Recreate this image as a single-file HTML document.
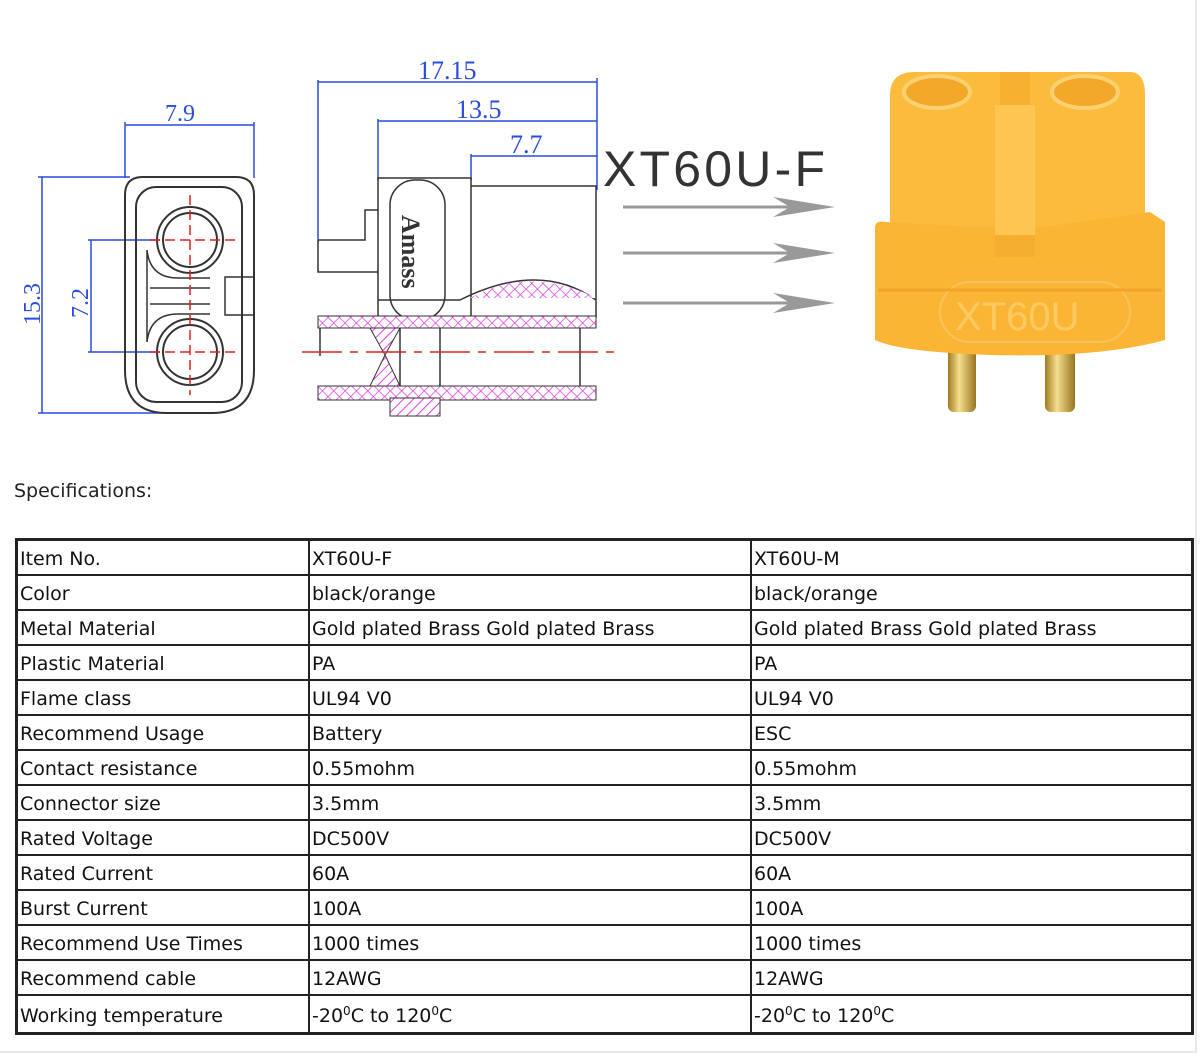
<!DOCTYPE html>
<html><head><meta charset="utf-8"><style>
html,body{margin:0;padding:0;background:#fff;}
body{width:1200px;height:1057px;position:relative;overflow:hidden;font-family:"DejaVu Sans","Liberation Sans",sans-serif;}
.frame{position:absolute;right:3px;top:0;width:2px;height:1053px;background:#e8e8e8;}
.frameb{position:absolute;left:0;top:1051px;width:1197px;height:2px;background:#e8e8e8;}
.spec{position:absolute;left:14px;top:480px;font-size:19px;color:#222;}
table{position:absolute;left:15px;top:538px;width:1179px;border-collapse:collapse;border:3px solid #222;font-size:19px;color:#111;}
td{border:2px solid #222;padding:0 0 0 2px;height:33px;line-height:30px;white-space:nowrap;vertical-align:bottom;}
td.a{width:288px}td.b{width:438px}
tr.last td{height:36px;line-height:32px}
sup{font-size:12px;vertical-align:7px;line-height:0}
</style></head><body>
<svg width="1200" height="470" style="position:absolute;left:0;top:0" font-family="Liberation Serif, serif">
<defs>
<pattern id="h" width="7" height="7" patternUnits="userSpaceOnUse" patternTransform="rotate(45)"><rect width="7" height="7" fill="#fff"/><line x1="0" y1="0" x2="0" y2="7" stroke="#e040e0" stroke-width="2"/></pattern>
<pattern id="x" width="8" height="8" patternUnits="userSpaceOnUse" patternTransform="rotate(45)"><rect width="8" height="8" fill="#fff"/><line x1="0" y1="0" x2="0" y2="8" stroke="#e040e0" stroke-width="1.5"/><line x1="0" y1="0" x2="8" y2="0" stroke="#e040e0" stroke-width="1.5"/></pattern>
<linearGradient id="pin" x1="0" x2="1"><stop offset="0" stop-color="#a07a20"/><stop offset=".4" stop-color="#f5df90"/><stop offset="1" stop-color="#9a7420"/></linearGradient>
</defs>
<g fill="none" stroke="#2a4be0" stroke-width="1.5">
<line x1="125" y1="125" x2="254" y2="125"/><line x1="125" y1="122" x2="125" y2="178"/><line x1="254" y1="122" x2="254" y2="178"/>
<line x1="38" y1="177" x2="130" y2="177"/><line x1="38" y1="413" x2="190" y2="413"/><line x1="42" y1="177" x2="42" y2="413"/>
<line x1="88" y1="240" x2="160" y2="240"/><line x1="88" y1="352" x2="160" y2="352"/><line x1="91" y1="240" x2="91" y2="352"/>
</g>
<text x="165" y="121" font-size="24" fill="#2a4be0">7.9</text>
<text transform="translate(40,325) rotate(-90)" font-size="24" fill="#2a4be0">15.3</text>
<text transform="translate(88,318) rotate(-90)" font-size="24" fill="#2a4be0">7.2</text>
<g fill="none" stroke="#333" stroke-width="2">
<path d="M125 195 Q125 177 143 177 L236 177 Q254 177 254 195 L254 370 Q254 413 212 413 L167 413 Q125 413 125 370 Z"/>
<rect x="136" y="187" width="106" height="215" rx="20"/>
<circle cx="190" cy="240" r="33"/><circle cx="190" cy="240" r="27"/>
<circle cx="190" cy="352" r="33"/><circle cx="190" cy="352" r="27"/>
<rect x="225" y="277" width="29" height="38" stroke-width="1.5"/>
<path d="M147 250 Q150 278 178 278 L210 278 M147 342 Q150 314 178 314 L210 314 M147 250 V342 M150 288 H210 M150 304 H210" stroke-width="1.5"/>
</g>
<g stroke="#e02020" stroke-width="1.5" stroke-dasharray="10,5">
<line x1="150" y1="240" x2="235" y2="240"/><line x1="150" y1="352" x2="235" y2="352"/><line x1="190" y1="195" x2="190" y2="395"/>
</g>
<g fill="none" stroke="#2a4be0" stroke-width="1.5">
<line x1="318" y1="82" x2="597" y2="82"/><line x1="318" y1="80" x2="318" y2="240"/><line x1="597" y1="78" x2="597" y2="190"/>
<line x1="378" y1="121" x2="597" y2="121"/><line x1="378" y1="119" x2="378" y2="180"/>
<line x1="471" y1="156" x2="597" y2="156"/><line x1="471" y1="154" x2="471" y2="180"/>
</g>
<text x="418" y="79" font-size="26" fill="#2a4be0">17.15</text>
<text x="456" y="118" font-size="26" fill="#2a4be0">13.5</text>
<text x="510" y="153" font-size="26" fill="#2a4be0">7.7</text>
<g fill="none" stroke="#333" stroke-width="1.5">
<path d="M378 318 V178 H471 V318"/>
<path d="M471 186 H596 V318"/>
<path d="M318 240 V272 H378 M318 240 H365 V210 H378"/>
<rect x="390" y="180" width="55" height="140" rx="25"/>
<path d="M378 300 Q440 300 460 300 Q540 260 596 300" />
</g>
<path d="M470 298 Q530 265 596 298 Z" fill="url(#x)"/>
<rect x="318" y="316" width="278" height="12" fill="url(#x)" stroke="#333"/>
<rect x="318" y="386" width="278" height="14" fill="url(#x)" stroke="#333"/>
<path d="M370 328 L400 328 L385 355 L400 386 L370 386 L385 355 Z" fill="url(#h)" stroke="#333"/>
<rect x="390" y="398" width="50" height="18" fill="url(#h)" stroke="#333"/>
<g fill="none" stroke="#333" stroke-width="1.5"><path d="M320 328 V356 M400 328 V386 M440 328 V386 M580 328 V386"/></g>
<line x1="302" y1="352" x2="615" y2="352" stroke="#e02020" stroke-width="1.5" stroke-dasharray="40,8,8,8"/>
<text transform="translate(402,215) rotate(90)" font-size="26" font-weight="bold" fill="#333">Amass</text>
<text x="603" y="186" font-family="Liberation Sans, sans-serif" font-size="50" fill="#333" textLength="222">XT60U-F</text>
<g stroke="#999" stroke-width="3"><line x1="623" y1="207" x2="800" y2="207"/><line x1="623" y1="253" x2="800" y2="253"/><line x1="623" y1="303" x2="800" y2="303"/></g>
<g fill="#999"><path d="M773 197 L835 207 L773 217 L790 207Z"/><path d="M773 243 L835 253 L773 263 L790 253Z"/><path d="M773 293 L835 303 L773 313 L790 303Z"/></g>
<rect x="948" y="340" width="28" height="72" rx="6" fill="url(#pin)"/>
<rect x="1045" y="340" width="30" height="72" rx="6" fill="url(#pin)"/>
<path d="M890 95 Q890 72 915 72 L1130 72 Q1145 72 1145 95 L1145 230 L890 230 Z" fill="#fbbb3c"/>
<ellipse cx="937" cy="92" rx="33" ry="16" fill="#f4a82a" stroke="#ffd070" stroke-width="4"/>
<ellipse cx="1085" cy="92" rx="33" ry="16" fill="#f4a82a" stroke="#ffd070" stroke-width="4"/>
<rect x="1000" y="72" width="30" height="40" fill="#f7b030"/>
<path d="M875 228 Q875 220 885 222 L1000 228 L1035 228 L1150 212 L1165 222 L1165 340 Q1100 358 990 355 Q900 352 875 340 Z" fill="#fbb535"/>
<rect x="995" y="105" width="40" height="150" fill="#fdc650"/>
<rect x="995" y="235" width="40" height="22" fill="#f6ae30"/>
<rect x="940" y="282" width="190" height="60" rx="30" fill="none" stroke="#f7c45a" stroke-width="2"/>
<text x="955" y="330" font-family="Liberation Sans, sans-serif" font-size="40" fill="#fcca60">XT60U</text>
<line x1="878" y1="290" x2="1162" y2="290" stroke="#f0a428" stroke-width="3"/>
</svg>
<div class="frame"></div><div class="frameb"></div>
<div class="spec">Specifications:</div>
<table>
<tr><td class="a">Item No.</td><td class="b">XT60U-F</td><td>XT60U-M</td></tr>
<tr><td>Color</td><td>black/orange</td><td>black/orange</td></tr>
<tr><td>Metal Material</td><td>Gold plated Brass Gold plated Brass</td><td>Gold plated Brass Gold plated Brass</td></tr>
<tr><td>Plastic Material</td><td>PA</td><td>PA</td></tr>
<tr><td>Flame class</td><td>UL94 V0</td><td>UL94 V0</td></tr>
<tr><td>Recommend Usage</td><td>Battery</td><td>ESC</td></tr>
<tr><td>Contact resistance</td><td>0.55mohm</td><td>0.55mohm</td></tr>
<tr><td>Connector size</td><td>3.5mm</td><td>3.5mm</td></tr>
<tr><td>Rated Voltage</td><td>DC500V</td><td>DC500V</td></tr>
<tr><td>Rated Current</td><td>60A</td><td>60A</td></tr>
<tr><td>Burst Current</td><td>100A</td><td>100A</td></tr>
<tr><td>Recommend Use Times</td><td>1000 times</td><td>1000 times</td></tr>
<tr><td>Recommend cable</td><td>12AWG</td><td>12AWG</td></tr>
<tr class="last"><td>Working temperature</td><td>-20<sup>0</sup>C to 120<sup>0</sup>C</td><td>-20<sup>0</sup>C to 120<sup>0</sup>C</td></tr>
</table>
</body></html>
